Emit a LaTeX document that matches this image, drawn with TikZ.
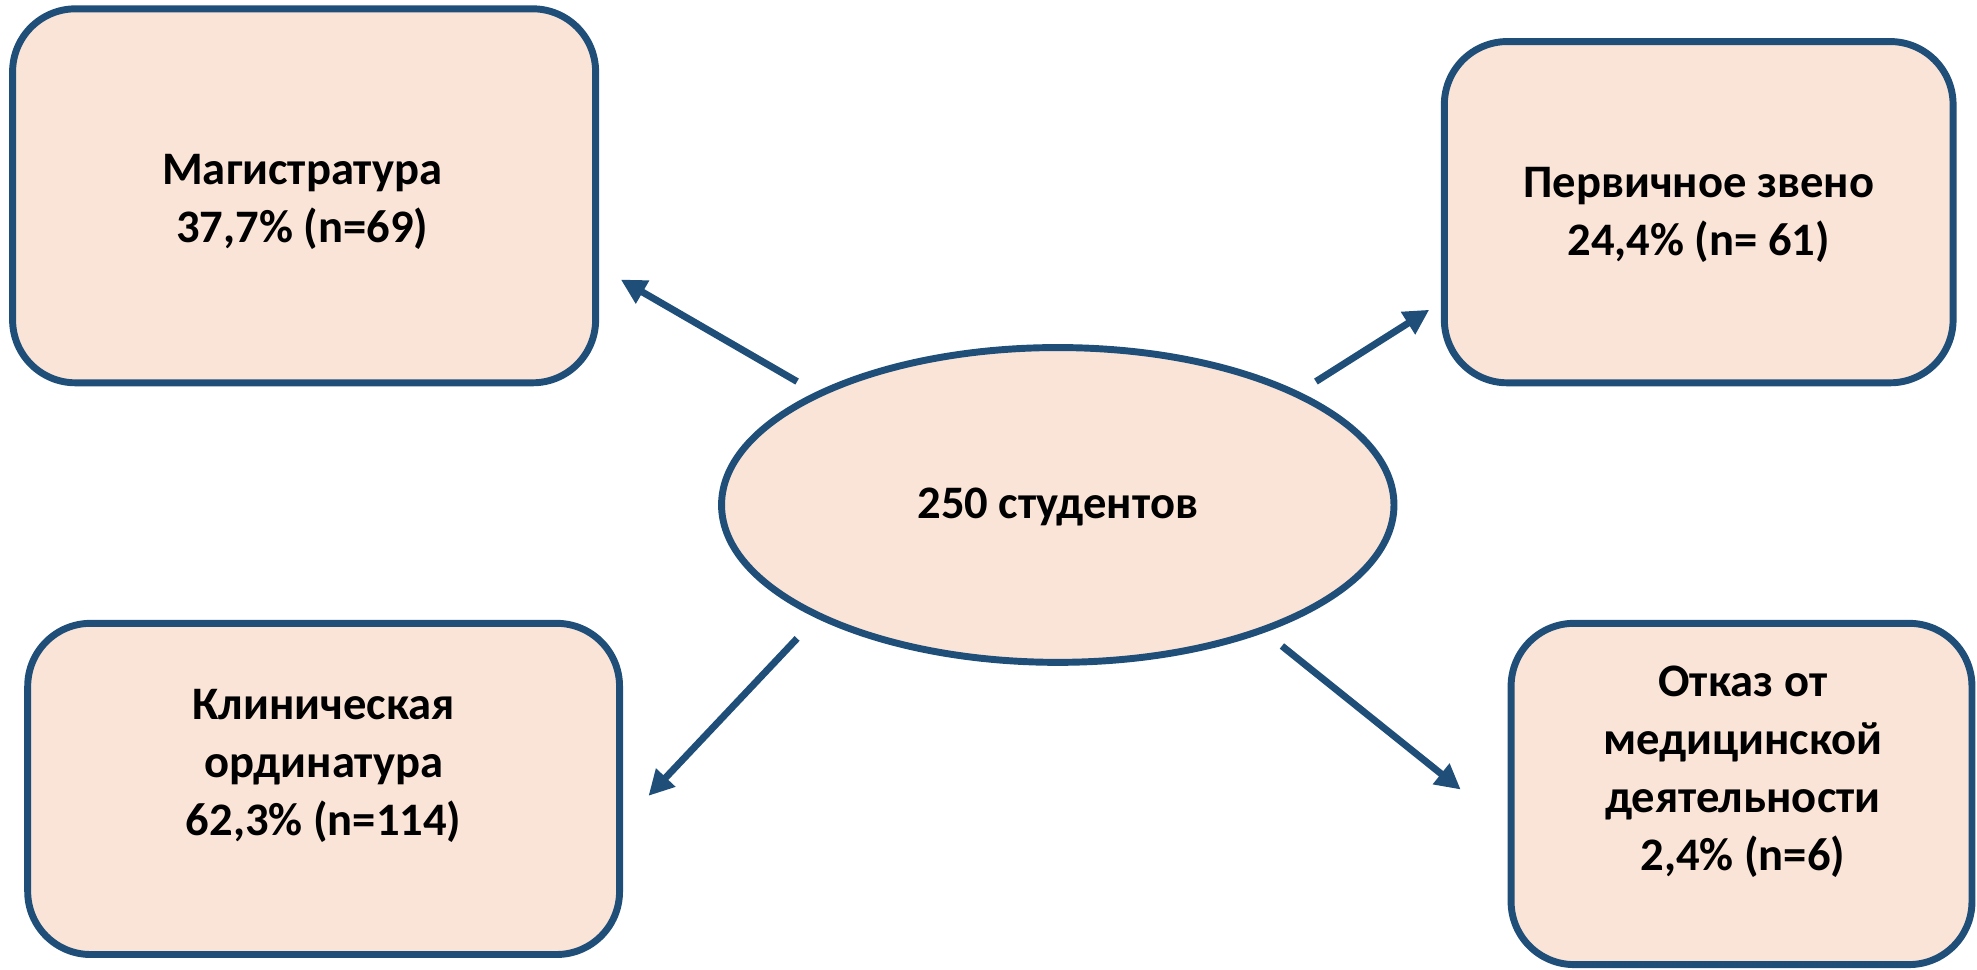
\documentclass[tikz,border=0pt]{standalone}
\usepackage{fontspec}
\setmainfont{Carlito}
\usetikzlibrary{arrows.meta}
\definecolor{edge}{HTML}{1F4E79}
\definecolor{fillc}{HTML}{FAE4D7}
\tikzset{
  box/.style={draw=edge, line width=5.5pt, fill=fillc, rounded corners=50pt, inner sep=0pt},
  lbl/.style={align=center, font=\fontsize{37}{46}\selectfont\bfseries, text=black},
  conn/.style={draw=edge, line width=5.5pt, -{Triangle[length=20pt,width=20pt]}}
}
\begin{document}
\begin{tikzpicture}[x=1pt,y=-1pt]
\useasboundingbox (0,0) rectangle (1570,770);
% boxes
\draw[box] (10,7) rectangle (473,304);
\draw[box] (1147,33) rectangle (1551,304);
\draw[box] (22,495) rectangle (492,758);
\draw[box] (1200,495) rectangle (1566,766);
\node[lbl] (b1) at (240,160) {Магистратура\\37,7\% (n=69)};
\node[lbl] (b2) at (1349,171) {Первичное звено\\24,4\% (n= 61)};
\node[lbl] (b3) at (257,608) {Клиническая\\ординатура\\62,3\% (n=114)};
\node[lbl] (b4) at (1384,613) {Отказ от\\медицинской\\деятельности\\2,4\% (n=6)};
% ellipse
\draw[draw=edge, line width=5.5pt, fill=fillc] (840,401) ellipse [x radius=267, y radius=125];
\node[lbl] (c) at (840,403) {250 студентов};
% arrow ends
\coordinate (s1) at (633,303); \coordinate (e1) at (493,222);
\coordinate (s2) at (1045,303); \coordinate (e2) at (1135,246);
\coordinate (s3) at (633,507); \coordinate (e3) at (515,632);
\coordinate (s4) at (1018,513); \coordinate (e4) at (1160,627);
\draw[conn] (s1) -- (e1);
\draw[conn] (s2) -- (e2);
\draw[conn] (s3) -- (e3);
\draw[conn] (s4) -- (e4);
\end{tikzpicture}
\end{document}
